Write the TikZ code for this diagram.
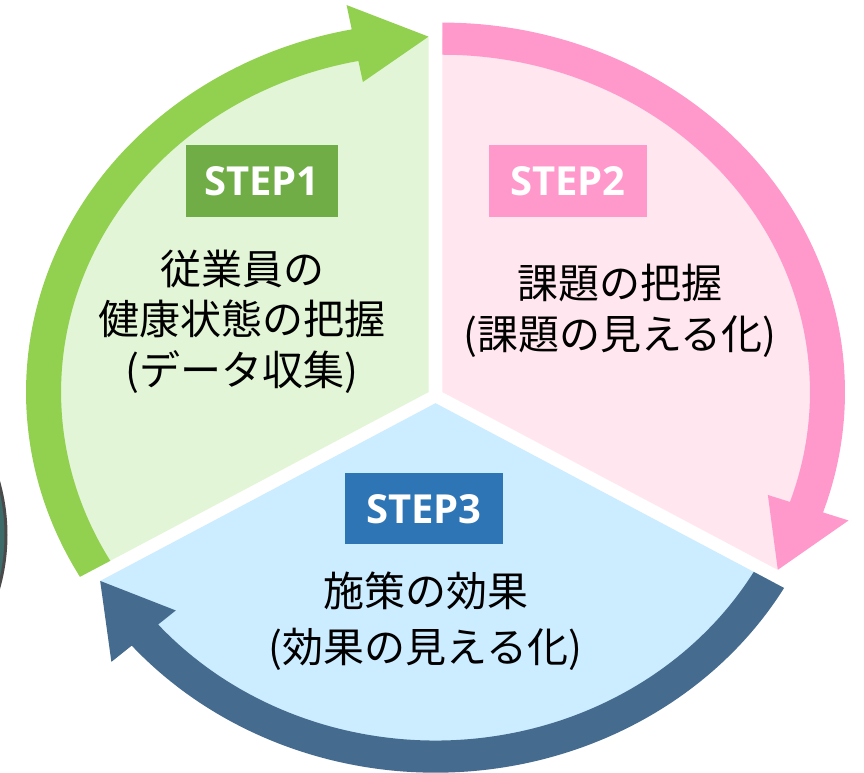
\documentclass[tikz,border=0pt]{standalone}
\usepackage{fontspec}
\newfontfamily\jpfont{Noto Sans CJK JP}
\newfontfamily\stepfont{Open Sans}
\definecolor{gband}{HTML}{92D050}
\definecolor{gfill}{HTML}{E2F5D6}
\definecolor{gboxc}{HTML}{70AD47}
\definecolor{pband}{HTML}{FF99CC}
\definecolor{pfill}{HTML}{FFE6EF}
\definecolor{pboxc}{HTML}{FF99CC}
\definecolor{bband}{HTML}{456B8E}
\definecolor{bfill}{HTML}{CCECFF}
\definecolor{bboxc}{HTML}{2E75B6}
\definecolor{tealdark}{HTML}{3C6B6A}
\definecolor{greyedge}{HTML}{4A4A4A}
\begin{document}
\begin{tikzpicture}[x=1pt,y=1pt,
  stepbox/.style={minimum height=71.7pt, inner sep=0pt, text=white,
    font=\stepfont\bfseries\fontsize{40}{48}\selectfont},
  desc/.style={align=center, text=black, inner sep=0pt}]
\useasboundingbox (0,0) rectangle (864,773);
\clip (0,0) rectangle (864,773);
\fill[white] (0,0) rectangle (864,773);
% cropped dark circle at the left edge
\filldraw[fill=tealdark, draw=greyedge, line width=3pt] (-190,238) circle[radius=196];
\begin{scope}[shift={(435.5,377.2)}, xscale=402.5, yscale=369.5]
  % sector fills
  \begin{scope}[shift={(150:0.02)}]
    \fill[gfill] (0,0) -- (90:0.96) arc[start angle=90,end angle=210,radius=0.96] -- cycle;
  \end{scope}
  \begin{scope}[shift={(30:0.02)}]
    \fill[pfill] (0,0) -- (-30:0.96) arc[start angle=-30,end angle=90,radius=0.96] -- cycle;
  \end{scope}
  \begin{scope}[shift={(270:0.02)}]
    \fill[bfill] (0,0) -- (210:0.96) arc[start angle=210,end angle=330,radius=0.96] -- cycle;
  \end{scope}
  % circular arrows
  \begin{scope}[shift={(150:0.02)}]
    \fill[gband] (210:1) arc[start angle=210,end angle=101,radius=1] -- (101:1.067) -- (90:0.962) -- (101:0.855) -- (101:0.913) arc[start angle=101,end angle=210,radius=0.913] -- cycle;
  \end{scope}
  \begin{scope}[shift={(30:0.02)}]
    \fill[pband] (90:1) arc[start angle=90,end angle=-19,radius=1] -- (-19:1.067) -- (-30:0.962) -- (-19:0.855) -- (-19:0.913) arc[start angle=-19,end angle=90,radius=0.913] -- cycle;
  \end{scope}
  \begin{scope}[shift={(270:0.02)}]
    \fill[bband] (330:1) arc[start angle=330,end angle=221,radius=1] -- (221:1.067) -- (210:0.962) -- (221:0.855) -- (221:0.913) arc[start angle=221,end angle=330,radius=0.913] -- cycle;
  \end{scope}
\end{scope}
% step labels
\node[stepbox, fill=gboxc, minimum width=151.7pt] (s1) at (261.85,592.15) {STEP1};
\node[stepbox, fill=pboxc, minimum width=157.4pt] (s2) at (568,592.15) {STEP2};
\node[stepbox, fill=bboxc, minimum width=157.7pt, minimum height=71pt] (s3) at (423.85,264.2) {STEP3};
% descriptions
\node[desc, font=\jpfont\fontsize{41}{50.5}\selectfont] (t1) at (242,451.5) {従業員の\\健康状態の把握\\(データ収集)};
\node[desc, font=\jpfont\fontsize{41}{51.5}\selectfont] (t2) at (620,462.25) {課題の把握\\(課題の見える化)};
\node[desc, font=\jpfont\fontsize{41}{56}\selectfont] (t3) at (425.5,151.8) {施策の効果\\(効果の見える化)};
\end{tikzpicture}
\end{document}
